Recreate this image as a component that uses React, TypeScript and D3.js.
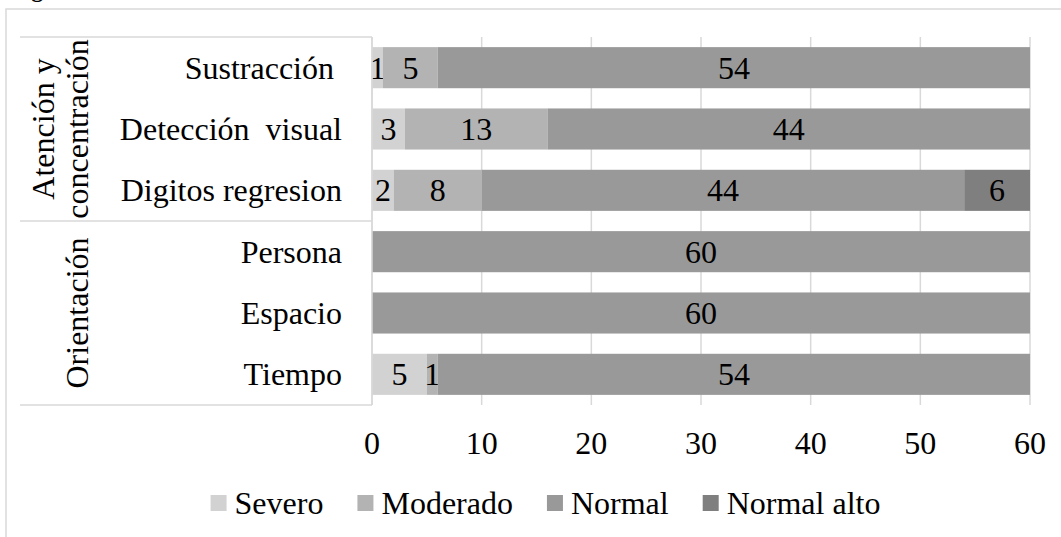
import { useMemo } from "react"
import { scaleBand, scaleLinear, stack } from "d3"

const W = 1061, H = 537
const X0 = 372, X1 = 1030, Y0 = 37, Y1 = 405
const FONT = "'Liberation Serif', 'Times New Roman', serif"
const FS = 32

const categories = ["Sustracción ", "Detección  visual", "Digitos regresion", "Persona", "Espacio", "Tiempo"]
const series = ["Severo", "Moderado", "Normal", "Normal alto"]
const severo = [1, 3, 2, 0, 0, 5]
const moderado = [5, 13, 8, 0, 0, 1]
const normal = [54, 44, 44, 60, 60, 54]
const normalAlto = [0, 0, 6, 0, 0, 0]
const xTicks = [0, 10, 20, 30, 40, 50, 60]
const groups = [
  { lines: ["Atención y", "concentración"], from: 0, to: 2 },
  { lines: ["Orientación"], from: 3, to: 5 },
]
const COLORS = ["#d2d2d2", "#b3b3b3", "#999999", "#7f7f7f"]
const GRID = "#d9d9d9"

function textWidth(s: string, size: number) {
  const c = document.createElement("canvas").getContext("2d")
  if (!c) return s.length * size * 0.5
  c.font = `${size}px 'Liberation Serif'`
  return c.measureText(s).width
}

export default function App() {
  const rows = useMemo(() => categories.map((c, i) => ({
    cat: c,
    Severo: severo[i],
    Moderado: moderado[i],
    Normal: normal[i],
    "Normal alto": normalAlto[i],
  })), [])

  const layers = useMemo(() => stack<any>().keys(series)(rows), [rows])

  const x = scaleLinear().domain([0, 60]).range([X0, X1])
  const y = scaleBand<string>().domain(categories).range([Y0, Y1]).paddingInner(0.33).paddingOuter(0.165)

  // legend layout, centered a bit right of the window middle (frame runs past the right edge)
  const legend = useMemo(() => {
    const box = 16, gapText = 8, gapItem = 34
    const widths = series.map(s => textWidth(s, FS))
    const total = widths.reduce((a, w) => a + box + gapText + w, 0) + gapItem * (series.length - 1)
    let cx = W / 2 - total / 2 + 15
    return series.map((s, i) => {
      const item = { s, x: cx, color: COLORS[i] }
      cx += box + gapText + widths[i] + gapItem
      return item
    })
  }, [])

  const bandTop = (i: number) => i === 0 ? Y0 : (y(categories[i])! + y(categories[i - 1])! + y.bandwidth()) / 2
  const bandBottom = (i: number) => i === categories.length - 1 ? Y1 : (y(categories[i])! + y.bandwidth() + y(categories[i + 1])!) / 2
  const mid = 11

  return (
    <div style={{ position: "absolute", left: 0, top: 0 }}>
      <svg width={W} height={H} style={{ display: "block", fontFamily: FONT }}>
        <rect width={W} height={H} fill="#fff" />
        <text x={10} y={-3} fontSize={24} fontWeight={700} fill="#000">Figura</text>
        <rect x={6} y={9} width={W + 10} height={H + 10} fill="none" stroke={GRID} strokeWidth={1.5} />

        {/* gridlines */}
        {xTicks.map(t => (
          <line key={t} x1={x(t)} x2={x(t)} y1={Y0} y2={Y1} stroke={GRID} strokeWidth={1.5} />
        ))}

        {/* bars */}
        {layers.map((layer, li) => (
          <g key={layer.key}>
            {layer.map((d, i) => {
              const v = d[1] - d[0]
              if (v <= 0) return null
              return (
                <g key={i}>
                  <rect x={x(d[0])} y={y(categories[i])} width={x(d[1]) - x(d[0])} height={y.bandwidth()} fill={COLORS[li]} />
                  <text x={(x(d[0]) + x(d[1])) / 2} y={y(categories[i])! + y.bandwidth() / 2 + mid}
                    textAnchor="middle" fontSize={FS} fill="#000">{v}</text>
                </g>
              )
            })}
          </g>
        ))}

        {/* category axis table */}
        <line x1={X0} x2={X0} y1={Y0} y2={Y1} stroke={GRID} strokeWidth={1.5} />
        <line x1={20} x2={X0} y1={Y0} y2={Y0} stroke={GRID} strokeWidth={1.5} />
        {groups.map((g, gi) => (
          <line key={gi} x1={20} x2={X0} y1={bandBottom(g.to)} y2={bandBottom(g.to)} stroke={GRID} strokeWidth={1.5} />
        ))}
        {categories.map(c => (
          <text key={c} x={342} y={y(c)! + y.bandwidth() / 2 + mid} textAnchor="end" fontSize={FS} fill="#000"
            style={{ whiteSpace: "pre" }}>{c}</text>
        ))}
        {groups.map((g, gi) => {
          const cy = (bandTop(g.from) + bandBottom(g.to)) / 2
          const baseX = 88 - (g.lines.length - 1) * 34
          return (
            <text key={gi} transform={`translate(${baseX},${cy}) rotate(-90)`} textAnchor="middle" fontSize={FS} fill="#000">
              {g.lines.map((l, li) => (
                <tspan key={li} x={0} dy={li === 0 ? 0 : 34}>{l}</tspan>
              ))}
            </text>
          )
        })}

        {/* value axis labels */}
        {xTicks.map(t => (
          <text key={t} x={x(t)} y={454} textAnchor="middle" fontSize={FS} fill="#000">{t}</text>
        ))}

        {/* legend */}
        {legend.map(it => (
          <g key={it.s}>
            <rect x={it.x} y={495} width={16} height={16} fill={it.color} />
            <text x={it.x + 24} y={514} fontSize={FS} fill="#000">{it.s}</text>
          </g>
        ))}
      </svg>
    </div>
  )
}
